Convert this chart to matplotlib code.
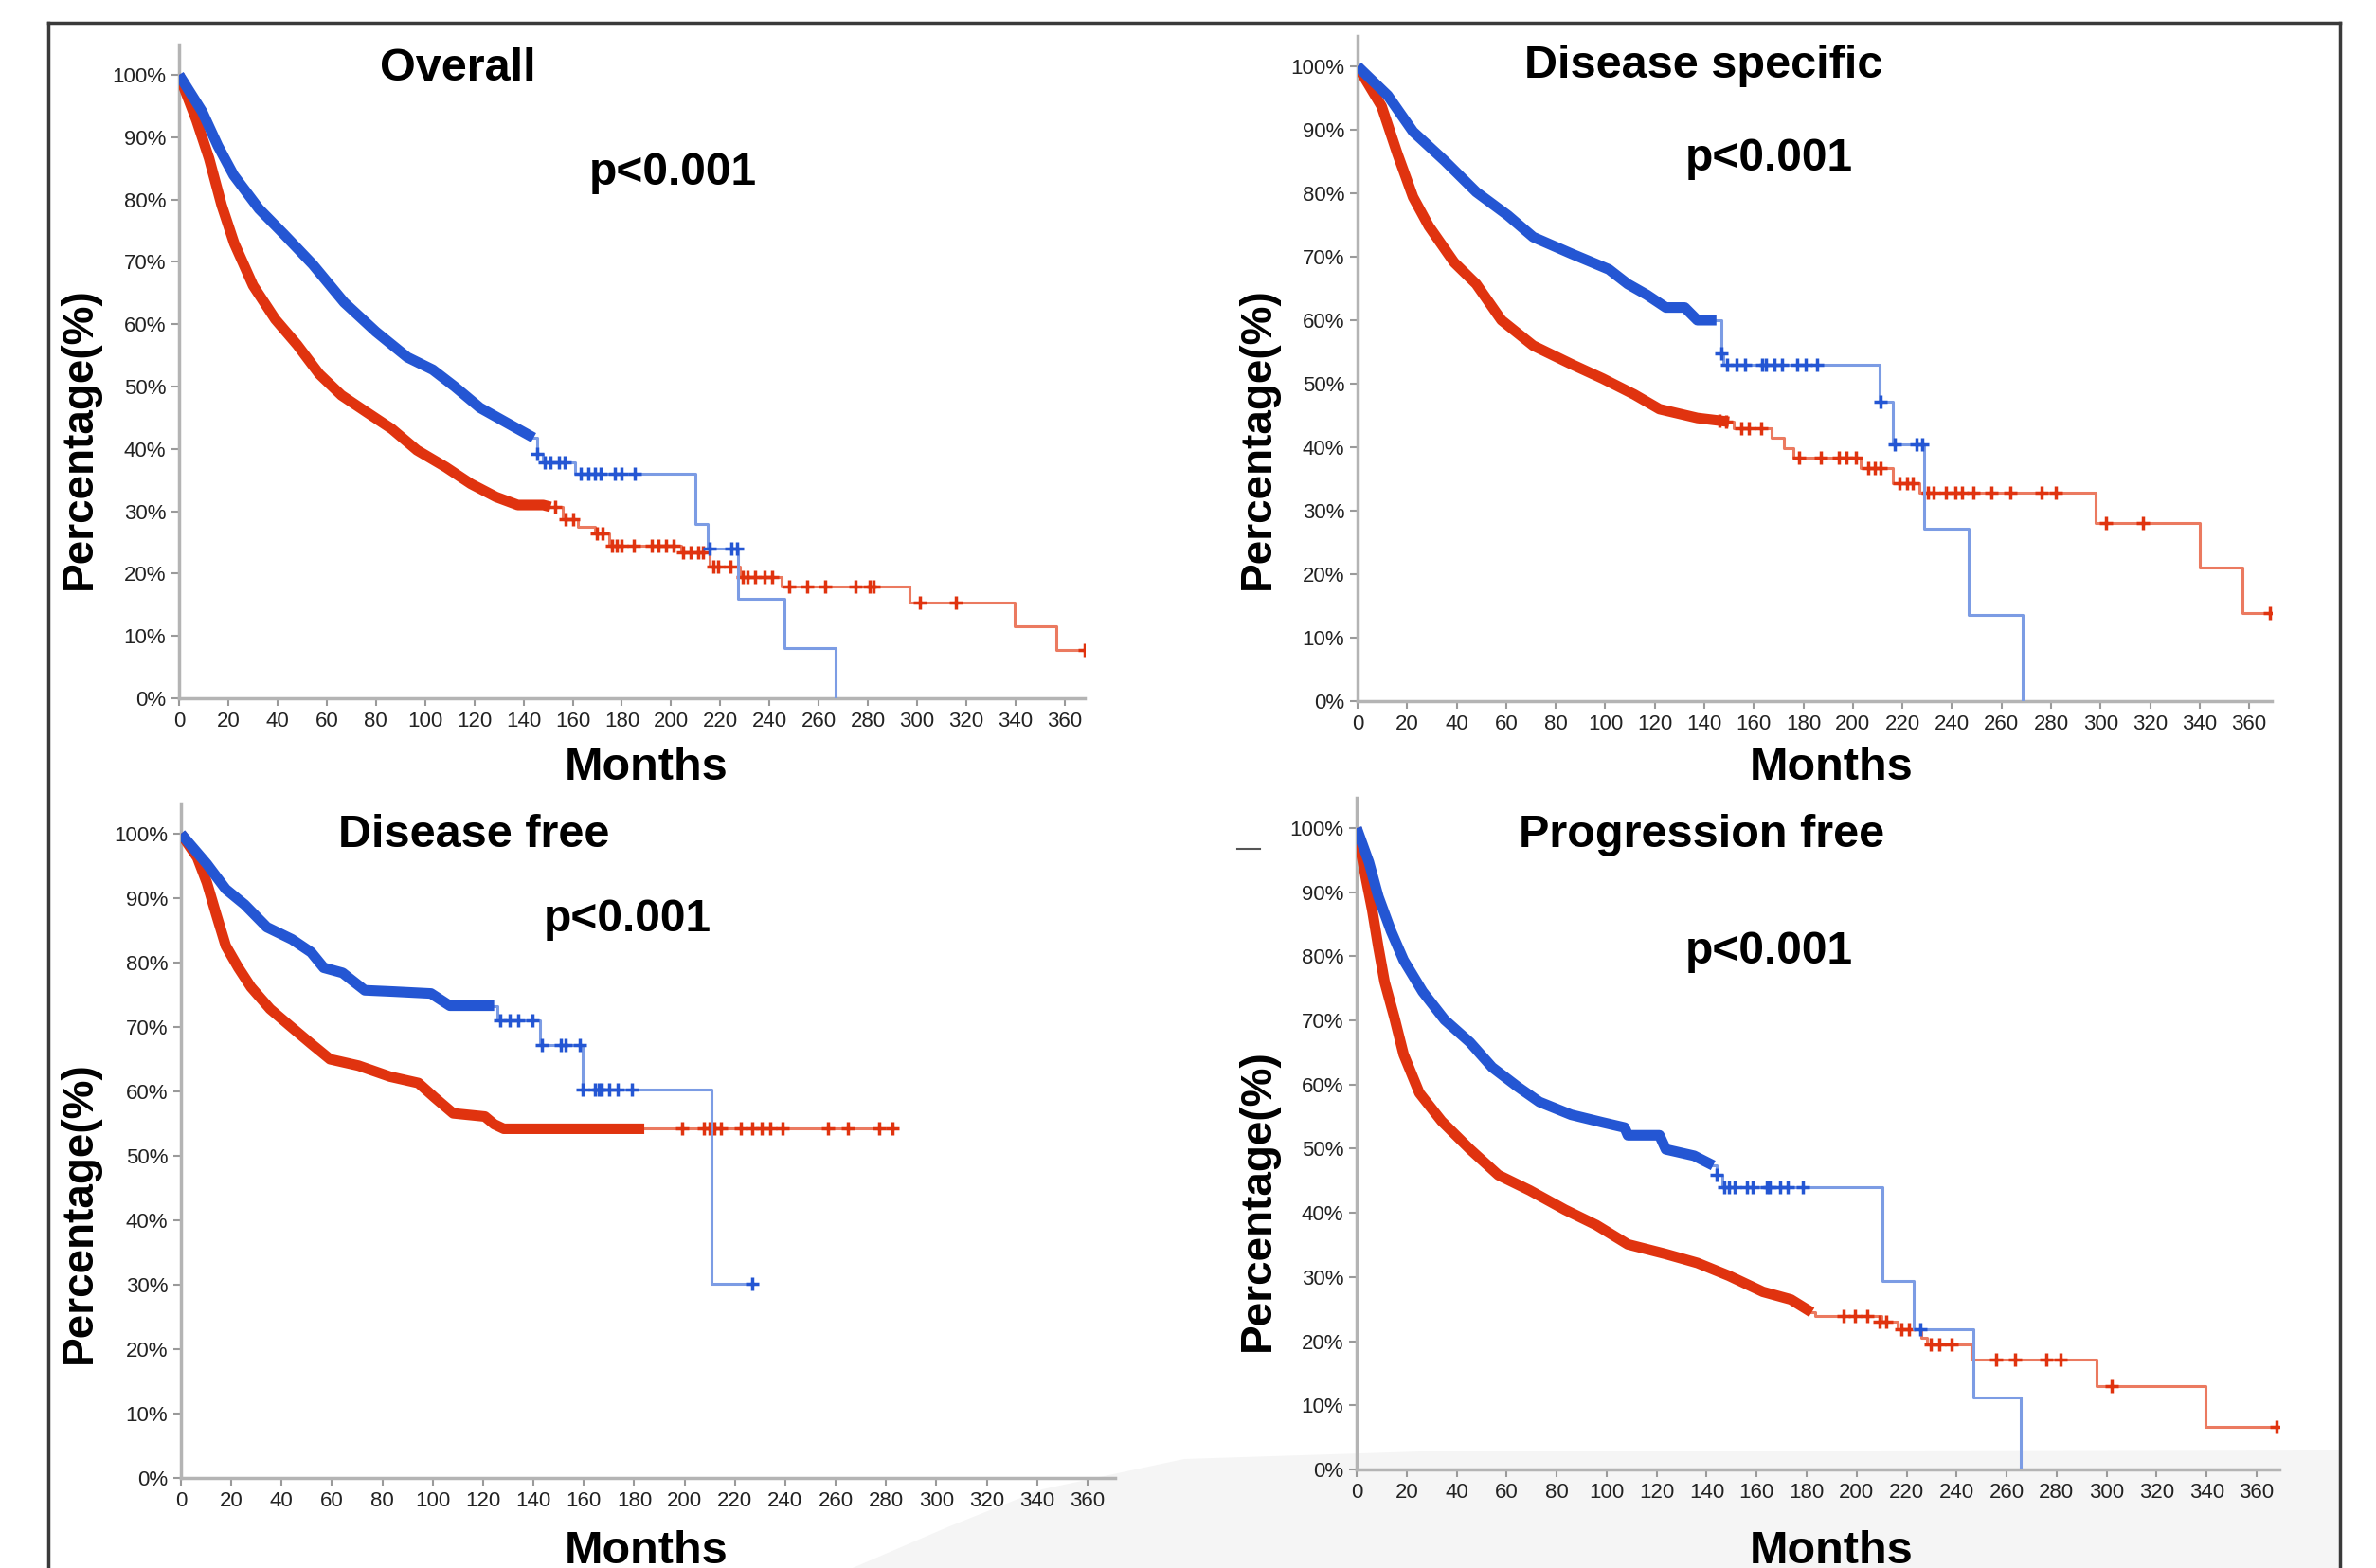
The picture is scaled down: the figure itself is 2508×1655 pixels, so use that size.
import matplotlib
matplotlib.use("Agg")
import matplotlib.pyplot as plt
from matplotlib.lines import Line2D
from matplotlib.patches import Polygon

W, H = 2508, 1655

BLUE = "#2456d3"
BLUE_TAIL = "#7c9ce4"
RED = "#e0330f"
RED_TAIL = "#eb7a60"

TICK_FONT = ["Liberation Sans Narrow", "Liberation Sans", "DejaVu Sans"]
BOLD_FONT = ["Liberation Sans", "DejaVu Sans"]

month_ticks = list(range(0, 361, 20))
pct_ticks = list(range(0, 101, 10))
titles = ["Overall", "Disease specific", "Disease free", "Progression free"]
p_label = "p<0.001"

# ---------------- Overall ----------------
os_blue_t = [0, 9.4, 15.8, 22.2, 32.5, 42.7, 54.3, 67.1, 80, 92.8, 103.1, 112, 122.3, 137.7, 144.1]
os_blue_s = [100, 94.1, 88.6, 83.9, 78.5, 74.4, 69.6, 63.5, 58.8, 54.7, 52.7, 50.0, 46.6, 43.2, 41.8]
os_blue_tail_t = [144.1, 145.5, 148, 161, 210, 215, 227, 246, 267]
os_blue_tail_s = [41.8, 39.2, 37.8, 36, 28, 24, 16, 8, 0]
os_blue_cens_t = [145.5, 148.7, 150.9, 154.5, 156.7, 163.3, 166.2, 169.1, 171.3, 177.1, 180, 185.1, 215.8, 224.5, 226.7]
os_blue_cens_s = [39.2, 37.8, 37.8, 37.8, 37.8, 36, 36, 36, 36, 36, 36, 36, 24, 24, 24]

os_red_t = [0, 7.1, 12.2, 17.3, 22.4, 30.1, 39.1, 48, 57, 66, 76.2, 86.5, 96.7, 108.3, 118.6, 128.8, 137.7, 148, 151]
os_red_s = [100, 92.7, 86.6, 79.1, 73.0, 66.2, 60.8, 56.7, 52.0, 48.6, 45.9, 43.2, 39.8, 37.1, 34.4, 32.3, 31.0, 31.0, 30.7]
os_red_tail_t = [151, 156, 162, 169, 174.8, 204, 215.6, 228, 245, 297, 339.6, 356.6, 368]
os_red_tail_s = [30.7, 28.7, 27.5, 26.4, 24.4, 23.4, 21.1, 19.4, 18.0, 15.3, 11.5, 7.75, 7.75]
os_red_cens_t = [153, 157, 160, 170, 172, 176, 178, 180, 185, 192, 195, 198, 201, 205, 208, 211, 213,
                 217, 219, 224, 229, 231, 234, 238, 241, 247.9, 255.2, 262.5, 274.9, 280.7, 282.1,
                 301.1, 315.7, 368]
os_red_cens_s = [30.7, 28.7, 28.7, 26.4, 26.4, 24.4, 24.4, 24.4, 24.4, 24.4, 24.4, 24.4, 24.4, 23.4, 23.4, 23.4, 23.4,
                 21.1, 21.1, 21.1, 19.4, 19.4, 19.4, 19.4, 19.4, 18.0, 18.0, 18.0, 18.0, 18.0, 18.0,
                 15.3, 15.3, 7.75]

# ---------------- Disease specific ----------------
ds_blue_t = [0, 12.2, 22.4, 35.2, 47.9, 60.7, 70.9, 86.2, 101.5, 109.1, 116.8, 124.5, 132.1, 137.2, 144.9]
ds_blue_s = [100, 95.4, 89.7, 85.1, 80.2, 76.5, 73.1, 70.5, 68.0, 65.7, 64.0, 62.0, 62.0, 60.0, 60.0]
ds_blue_tail_t = [144.9, 147, 147.7, 210.8, 216, 228.6, 246.9, 268.7]
ds_blue_tail_s = [60.0, 54.8, 53.0, 47.1, 40.4, 27.1, 13.6, 0]
ds_blue_cens_t = [147, 149.2, 152.9, 156.6, 163.3, 164.8, 168.5, 171.5, 177.4, 181.1, 185.6, 211.1, 216.8, 225.7, 227.9]
ds_blue_cens_s = [54.8, 53, 53, 53, 53, 53, 53, 53, 53, 53, 53, 47.1, 40.4, 40.4, 40.4]

ds_red_t = [0, 9.7, 16.1, 22.4, 28.8, 39, 47.9, 58.1, 70.9, 86.2, 99, 111.7, 121.9, 137.2, 150]
ds_red_s = [100, 93.7, 86.2, 79.4, 74.8, 69.1, 65.7, 60.0, 56.0, 53.1, 50.8, 48.3, 46.0, 44.6, 44.0]
ds_red_tail_t = [150, 152, 167, 172, 176, 203, 216, 227, 298, 340, 357.4, 368.5]
ds_red_tail_s = [44.0, 43, 41.5, 39.8, 38.4, 36.7, 34.3, 32.8, 28.1, 21, 13.9, 13.9]
ds_red_cens_t = [146, 149, 155, 158, 163, 178.2, 187.1, 194.5, 197.5, 201.2, 206, 209, 211, 219, 222, 224,
                 230.1, 232.4, 237.6, 241.3, 244.2, 248.7, 256.1, 263.5, 276.1, 282.1, 302.1, 317, 368.5]
ds_red_cens_s = [44.2, 44.1, 43, 43, 43, 38.4, 38.4, 38.4, 38.4, 38.4, 36.7, 36.7, 36.7, 34.3, 34.3, 34.3,
                 32.8, 32.8, 32.8, 32.8, 32.8, 32.8, 32.8, 32.8, 32.8, 32.8, 28.1, 28.1, 13.9]

# ---------------- Disease free ----------------
df_blue_t = [0, 10.3, 17.8, 25.3, 34.1, 44.1, 51.7, 56.7, 64.2, 73, 84.3, 99.3, 106.8, 124.4]
df_blue_s = [100, 95.3, 91.4, 89, 85.5, 83.6, 81.6, 79.2, 78.4, 75.7, 75.5, 75.2, 73.3, 73.3]
df_blue_tail_t = [124.4, 125.7, 142.6, 159.5, 210.7, 226.8]
df_blue_tail_s = [73.3, 71.1, 67.2, 60.3, 30.2, 30.2]
df_blue_cens_t = [126.9, 130.7, 133.8, 139.5, 143.2, 150.7, 152.6, 158.3,
                  159.5, 164.4, 166, 167, 170, 173.4, 179, 226.8]
df_blue_cens_s = [71.1, 71.1, 71.1, 71.1, 67.2, 67.2, 67.2, 67.2,
                  60.3, 60.3, 60.3, 60.3, 60.3, 60.3, 60.3, 30.2]

df_red_t = [0, 6.5, 10.3, 14, 17.8, 22.8, 27.8, 35.4, 42.9, 51.7, 59.2, 70.5, 83, 94.3, 100.6, 108.1, 120.7, 124.4, 128.2, 184]
df_red_s = [100, 96.3, 92.4, 87.5, 82.6, 79.2, 76.2, 72.8, 70.3, 67.4, 65.0, 64.0, 62.3, 61.3, 59.1, 56.6, 56.1, 54.9, 54.2, 54.2]
df_red_tail_t = [184, 284]
df_red_tail_s = [54.2, 54.2]
df_red_cens_t = [199.2, 207.6, 210, 212, 214.4, 222.2, 226.7, 230.5,
                 233.9, 238.9, 256.9, 264.7, 277.2, 282.5]
df_red_cens_s = [54.2] * 14

# ---------------- Progression free ----------------
pf_blue_t = [0, 4.9, 8.7, 13.8, 18.8, 26.4, 35.2, 45.3, 54.2, 64.3, 73.1, 85.8, 98.4, 107.2, 108.5, 121.1, 123.7, 135, 142.6]
pf_blue_s = [100, 94.7, 89.3, 83.9, 79.4, 74.5, 70.1, 66.6, 62.7, 59.7, 57.3, 55.3, 54.1, 53.3, 52.1, 52.1, 49.9, 48.9, 47.4]
pf_blue_tail_t = [142.6, 144, 146.4, 210.2, 222.8, 246.7, 265.5]
pf_blue_tail_s = [47.4, 45.9, 44.0, 29.4, 21.9, 11.2, 0]
pf_blue_cens_t = [144, 147, 149, 151.3, 156.2, 158.3, 163.9, 165.3, 169.5, 172.3, 178.6, 225.6]
pf_blue_cens_s = [45.9, 44, 44, 44, 44, 44, 44, 44, 44, 44, 44, 21.9]

pf_red_t = [0, 3.7, 6.2, 8.7, 11.2, 15, 18.8, 25.1, 34, 45.4, 56.7, 69.3, 83.3, 95.9, 108.5, 123.6, 136.3, 148.9, 162.5, 173.7, 182]
pf_red_s = [100, 92.2, 87.3, 81.4, 76.0, 70.6, 64.7, 58.7, 54.3, 49.9, 45.9, 43.5, 40.5, 38.1, 35.1, 33.6, 32.2, 30.2, 27.7, 26.5, 24.5]
pf_red_tail_t = [182, 183.4, 210, 216.2, 226, 228, 246, 296, 339.7, 368]
pf_red_tail_s = [24.5, 24.0, 23.0, 21.8, 20.6, 19.5, 17.2, 13.0, 6.6, 6.6]
pf_red_cens_t = [194.6, 199.2, 204.1, 209, 212, 218, 221, 229.5, 233, 238.1, 255.6, 263.3, 276, 281.4, 302, 368]
pf_red_cens_s = [24, 24, 24, 23, 23, 21.8, 21.8, 19.5, 19.5, 19.5, 17.2, 17.2, 17.2, 17.2, 13.0, 6.6]

panels = [
    (os_blue_t, os_blue_s, os_blue_tail_t, os_blue_tail_s, os_blue_cens_t, os_blue_cens_s,
     os_red_t, os_red_s, os_red_tail_t, os_red_tail_s, os_red_cens_t, os_red_cens_s),
    (ds_blue_t, ds_blue_s, ds_blue_tail_t, ds_blue_tail_s, ds_blue_cens_t, ds_blue_cens_s,
     ds_red_t, ds_red_s, ds_red_tail_t, ds_red_tail_s, ds_red_cens_t, ds_red_cens_s),
    (df_blue_t, df_blue_s, df_blue_tail_t, df_blue_tail_s, df_blue_cens_t, df_blue_cens_s,
     df_red_t, df_red_s, df_red_tail_t, df_red_tail_s, df_red_cens_t, df_red_cens_s),
    (pf_blue_t, pf_blue_s, pf_blue_tail_t, pf_blue_tail_s, pf_blue_cens_t, pf_blue_cens_s,
     pf_red_t, pf_red_s, pf_red_tail_t, pf_red_tail_s, pf_red_cens_t, pf_red_cens_s),
]

# axes boxes in pixels: left (0 months), top, right, bottom (0%), and axis limits
boxes = [
    (189, 47.4, 1144.7, 737, 368, 104.8),
    (1433, 37.8, 2397.6, 740, 369, 104.8),
    (191, 848.7, 1177.1, 1560, 371, 104.6),
    (1432, 841.5, 2405.8, 1551, 369, 104.8),
]

# text anchors in pixels
title_pos = [(483, 85), (1798, 82), (500, 894), (1796, 894)]
p_pos = [(710, 195), (1867, 180), (662, 983), (1867, 1017)]
ylab_pos = [(84, 463), (1328, 463), (84, 1280), (1328, 1267)]
xlab_pos = [(682, 823), (1933, 823), (682, 1650), (1933, 1650)]

fig = plt.figure(figsize=(W / 100, H / 100), dpi=100)
fig.patch.set_facecolor("white")


def fx(x):
    return x / W


def fy(y):
    return 1 - y / H


# faint grey swoosh at the bottom right of the screenshot
fig.patches.append(Polygon(
    [(fx(900), fy(1655)), (fx(1000), fy(1612)), (fx(1100), fy(1572)), (fx(1250), fy(1540)),
     (fx(1500), fy(1532)), (fx(2470), fy(1530)), (fx(2470), fy(1655))],
    closed=True, transform=fig.transFigure, facecolor="#f5f5f5", edgecolor="none", zorder=-5))

for i, data in enumerate(panels):
    (bt, bs, btt, bts, bct, bcs, rt, rs, rtt, rts, rct, rcs) = data
    left, top, right, bottom, xmax, ymax = boxes[i]
    ax = fig.add_axes([fx(left), fy(bottom), (right - left) / W, (bottom - top) / H])
    ax.patch.set_alpha(0)

    # red group
    ax.step(rtt, rts, where="post", color=RED_TAIL, lw=2.2, zorder=2)
    ax.plot(rt, rs, color=RED, lw=8, solid_joinstyle="round", solid_capstyle="butt", zorder=3)
    ax.plot(rct, rcs, ls="none", marker="+", ms=10, mew=2.5, color=RED, zorder=3)
    # blue group
    ax.step(btt, bts, where="post", color=BLUE_TAIL, lw=2.2, zorder=4)
    ax.plot(bt, bs, color=BLUE, lw=8, solid_joinstyle="round", solid_capstyle="butt", zorder=5)
    ax.plot(bct, bcs, ls="none", marker="+", ms=10, mew=2.5, color=BLUE, zorder=5)

    ax.set_xlim(0, xmax)
    ax.set_ylim(0, ymax)
    ax.set_xticks(month_ticks)
    ax.set_xticklabels([str(m) for m in month_ticks], family=TICK_FONT, fontsize=16, color="#222222")
    ax.set_yticks(pct_ticks)
    ax.set_yticklabels([f"{p}%" for p in pct_ticks], family=TICK_FONT, fontsize=16, color="#222222")
    ax.tick_params(length=6, width=1.5, color="#9a9a9a", pad=4)
    for side in ["top", "right"]:
        ax.spines[side].set_visible(False)
    for side in ["left", "bottom"]:
        ax.spines[side].set_color("#b4b4b4")
        ax.spines[side].set_linewidth(2.5)

    tx, ty = title_pos[i]
    fig.text(fx(tx), fy(ty), titles[i], ha="center", va="baseline", fontsize=35,
             fontweight="bold", family=BOLD_FONT)
    px, py = p_pos[i]
    fig.text(fx(px), fy(py), p_label, ha="center", va="baseline", fontsize=34.5,
             fontweight="bold", family=BOLD_FONT)
    lx, ly = ylab_pos[i]
    fig.text(fx(lx), fy(ly), "Percentage(%)", ha="center", va="center", rotation=90,
             fontsize=33, fontweight="bold", family=BOLD_FONT)
    mx, my = xlab_pos[i]
    fig.text(fx(mx), fy(my), "Months", ha="center", va="baseline", fontsize=35,
             fontweight="bold", family=BOLD_FONT)

# screenshot frame
frame = dict(color="#3a3a3a", lw=2.5, transform=fig.transFigure)
fig.add_artist(Line2D([fx(51), fx(51)], [fy(24), fy(1655)], **frame))
fig.add_artist(Line2D([fx(51), fx(2470)], [fy(24), fy(24)], **frame))
fig.add_artist(Line2D([fx(2470), fx(2470)], [fy(24), fy(1655)], **frame))
# small stray dash in the lower right panel
fig.add_artist(Line2D([fx(1306), fx(1330)], [fy(896), fy(896)], color="#555555", lw=1.5,
                      transform=fig.transFigure))

fig.savefig("out.png", dpi=100)
